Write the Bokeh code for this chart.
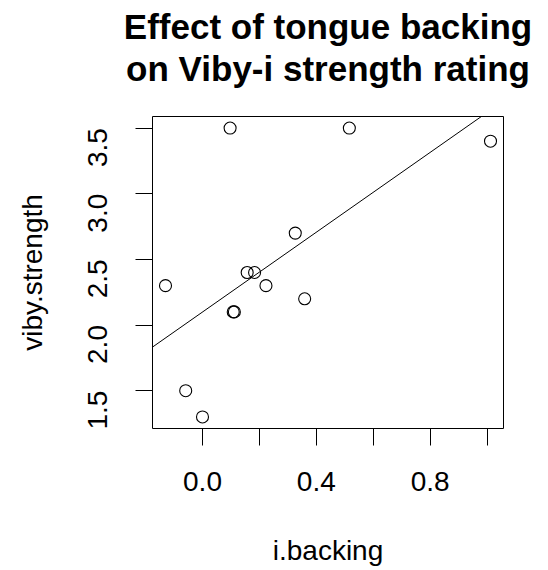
import math
import numpy as np
from bokeh.plotting import figure
from bokeh.models import Range1d, FixedTicker, Slope, LinearAxis
from bokeh.embed import file_html
from bokeh.resources import INLINE

# data
i_backing = [0.097, 0.516, 1.012, 0.326, 0.157, 0.183, -0.130, 0.223, 0.359, 0.108, 0.112, -0.059, 0.000]
viby_strength = [3.5, 3.5, 3.4, 2.7, 2.4, 2.4, 2.3, 2.3, 2.2, 2.1, 2.1, 1.5, 1.3]

x_ticks = [0.0, 0.2, 0.4, 0.6, 0.8, 1.0]
x_tick_labels = ["0.0", "", "0.4", "", "0.8", ""]
y_ticks = [1.5, 2.0, 2.5, 3.0, 3.5]
y_tick_labels = ["1.5", "2.0", "2.5", "3.0", "3.5"]

title_lines = ["Effect of tongue backing", "on Viby-i strength rating"]
x_label = "i.backing"
y_label = "viby.strength"

# R-style ranges (4% padding)
xmin, xmax = min(i_backing), max(i_backing)
ymin, ymax = min(viby_strength), max(viby_strength)
xpad = 0.04 * (xmax - xmin)
ypad = 0.04 * (ymax - ymin)

slope, intercept = np.polyfit(np.array(i_backing), np.array(viby_strength), 1)

FONT = "Liberation Sans"
W, H = 548, 570

p = figure(width=W, height=H, output_backend="svg", toolbar_location=None,
           x_range=Range1d(xmin - xpad, xmax + xpad),
           y_range=Range1d(ymin - ypad, ymax + ypad),
           min_border_left=152, min_border_right=45,
           min_border_top=116, min_border_bottom=142)

p.background_fill_color = "white"
p.border_fill_color = "white"
p.outline_line_color = "black"
p.outline_line_width = 1
p.xgrid.visible = False
p.ygrid.visible = False

main_x = p.below[0]
main_y = p.left[0]

for ax in (main_x, main_y):
    ax.axis_line_color = None
    ax.major_tick_line_color = "black"
    ax.major_tick_in = 0
    ax.minor_tick_line_color = None
    ax.major_label_text_font = FONT
    ax.major_label_text_font_size = "28px"
    ax.major_label_text_color = "black"
    ax.axis_label_text_font = FONT
    ax.axis_label_text_font_size = "28px"
    ax.axis_label_text_font_style = "normal"
    ax.axis_label_text_color = "black"

main_x.ticker = FixedTicker(ticks=x_ticks)
main_x.major_label_overrides = {k: v for k, v in zip(x_ticks, x_tick_labels)}
main_x.major_tick_out = 17
main_x.major_label_standoff = 26
main_x.axis_label = x_label
main_x.axis_label_standoff = 41

main_y.ticker = FixedTicker(ticks=y_ticks)
main_y.major_label_overrides = {k: v for k, v in zip(y_ticks, y_tick_labels)}
main_y.major_tick_out = 17
main_y.major_label_standoff = 38
main_y.major_label_orientation = math.pi / 2
main_y.axis_label = y_label
main_y.axis_label_standoff = 28

# two-line bold title, drawn as the labels of two tick-less axes above the frame
# (the first one added sits nearest the frame)
for line, standoff in zip(reversed(title_lines), [29, 0]):
    tax = LinearAxis(ticker=FixedTicker(ticks=[]), axis_label=line,
                     axis_line_color=None, major_tick_line_color=None,
                     minor_tick_line_color=None, major_tick_out=0, major_tick_in=0,
                     minor_tick_out=0, minor_tick_in=0, major_label_standoff=0,
                     axis_label_standoff=standoff,
                     axis_label_text_font=FONT, axis_label_text_font_size="35px",
                     axis_label_text_font_style="bold", axis_label_text_color="black")
    p.add_layout(tax, "above")

p.scatter(i_backing, viby_strength, size=12, marker="circle",
          fill_color=None, line_color="black", line_width=1.1)

p.add_layout(Slope(gradient=float(slope), y_intercept=float(intercept),
                   line_color="black", line_width=1))

open("out.html", "w").write(file_html(p, INLINE))
